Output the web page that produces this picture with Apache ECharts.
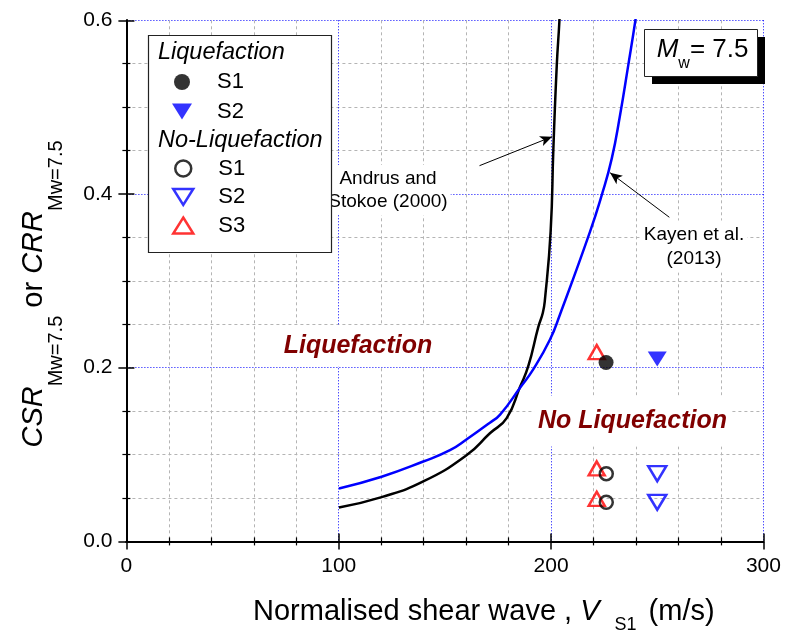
<!DOCTYPE html>
<html>
<head>
<meta charset="utf-8">
<script src="https://cdn.jsdelivr.net/npm/echarts@6/dist/echarts.min.js"></script>
<style>
  html, body { margin: 0; padding: 0; background: #fff; }
  #chart { width: 787px; height: 632px; }
</style>
</head>
<body>
<div id="chart"></div>
<script>
  // Andrus and Stokoe (2000) curve
  var andrusVs  = [100.1, 120.2, 139.8, 160.3, 171.2, 179.1, 185.4, 189.3, 194.0, 196.1, 197.1, 199.8, 201.1, 202.7, 203.9, 204.2];
  var andrusCrr = [0.039, 0.051, 0.069, 0.0995, 0.1245, 0.142, 0.178, 0.202, 0.247, 0.263, 0.278, 0.357, 0.453, 0.549, 0.598, 0.618];
  // Kayen et al. (2013) curve
  var kayenVs  = [100.1, 120.2, 139.8, 152.4, 160.3, 171.2, 176.0, 185.4, 191.6, 199.5, 204.2, 218.4, 223.9, 228.6, 232.5, 236.4, 239.6, 240.2];
  var kayenCrr = [0.061, 0.0745, 0.092, 0.105, 0.1176, 0.1367, 0.146, 0.177, 0.198, 0.2325, 0.2613, 0.357, 0.399, 0.441, 0.491, 0.549, 0.598, 0.610];

  // site points [Vs1, CSR]
  var liqS1   = [[225.9, 0.206]];
  var liqS2   = [[250, 0.210]];
  var noLiqS1 = [[226, 0.078], [226, 0.045]];
  var noLiqS2 = [[250, 0.078], [250, 0.045]];
  var noLiqS3 = [[221.5, 0.218], [221.5, 0.084], [221.5, 0.049]];

  var xRange = [0, 300], xMajor = 100;
  var yRange = [0, 0.6], yMajor = 0.2;

  var FONT = '"Liberation Sans", Arial, Helvetica, sans-serif';
  var DOWN_TRI = 'path://M0,0L20,0L10,16Z';
  var BLUE = '#0000ff';
  var DARKRED = '#800000';

  function pairs(xs, ys) {
    return xs.map(function (x, i) { return [x, ys[i]]; });
  }

  var axisCommon = {
    axisLine: { lineStyle: { color: '#000', width: 2 } },
    axisTick: { inside: true, length: 8, lineStyle: { color: '#000', width: 1.5 } },
    minorTick: { show: true, length: 4, lineStyle: { color: '#000', width: 1.2 } }
  };

  var dom = document.getElementById('chart');
  var chart = echarts.init(dom, null, { renderer: 'canvas' });

  var option = {
    animation: false,
    backgroundColor: '#fff',
    grid: { left: 126.4, right: 23.6, top: 20.3, bottom: 90.6 },
    xAxis: [{
      type: 'value', position: 'bottom', min: xRange[0], max: xRange[1], interval: xMajor,
      axisLine: axisCommon.axisLine, axisTick: axisCommon.axisTick,
      minorTick: Object.assign({ splitNumber: 5 }, axisCommon.minorTick),
      axisLabel: { color: '#000', fontSize: 21, fontFamily: FONT, margin: 14 },
      splitLine: { show: true, lineStyle: { color: BLUE, width: 1, type: [1, 2] } },
      minorSplitLine: { show: true, lineStyle: { color: '#b4b4b4', width: 1, type: [3, 3] } }
    }, {
      type: 'value', position: 'top', min: xRange[0], max: xRange[1], interval: xMajor,
      axisLine: axisCommon.axisLine, axisTick: axisCommon.axisTick,
      minorTick: Object.assign({ splitNumber: 5 }, axisCommon.minorTick),
      axisLabel: { show: false }, splitLine: { show: false }
    }],
    yAxis: [{
      type: 'value', position: 'left', min: yRange[0], max: yRange[1], interval: yMajor,
      axisLine: axisCommon.axisLine, axisTick: axisCommon.axisTick,
      minorTick: Object.assign({ splitNumber: 4 }, axisCommon.minorTick),
      axisLabel: { color: '#000', fontSize: 21, fontFamily: FONT, margin: 14,
        formatter: function (v) { return v.toFixed(1); } },
      splitLine: { show: true, lineStyle: { color: BLUE, width: 1, type: [1, 2] } },
      minorSplitLine: { show: true, lineStyle: { color: '#b4b4b4', width: 1, type: [3, 3] } }
    }, {
      type: 'value', position: 'right', min: yRange[0], max: yRange[1], interval: yMajor,
      axisLine: axisCommon.axisLine, axisTick: axisCommon.axisTick,
      minorTick: Object.assign({ splitNumber: 4 }, axisCommon.minorTick),
      axisLabel: { show: false }, splitLine: { show: false }
    }],
    legend: [{
      data: [
        { name: 'S1', icon: 'circle', itemStyle: { color: '#000', borderWidth: 0 } },
        { name: 'S2', icon: DOWN_TRI, itemStyle: { color: BLUE, borderWidth: 0 } }
      ],
      orient: 'vertical', left: 172, top: 71, padding: 0,
      itemWidth: 20, itemHeight: 16, itemGap: 7.5, selectedMode: false, z: 12,
      textStyle: { fontSize: 22, fontFamily: FONT, color: '#000', padding: [0, 0, 0, 20], lineHeight: 16 },
      formatter: function (n) { return n.trim(); }
    }, {
      data: [
        { name: 'S1 ', icon: 'circle', itemStyle: { color: 'rgba(0,0,0,0)', borderColor: '#000', borderWidth: 2.5 } },
        { name: 'S2 ', icon: DOWN_TRI, itemStyle: { color: 'rgba(0,0,0,0)', borderColor: BLUE, borderWidth: 2.5 } },
        { name: 'S3', icon: 'triangle', itemStyle: { color: 'rgba(0,0,0,0)', borderColor: '#ff0000', borderWidth: 2.5 } }
      ],
      orient: 'vertical', left: 172, top: 157.5, padding: 0,
      itemWidth: 20, itemHeight: 16, itemGap: 6.5, selectedMode: false, z: 12,
      textStyle: { fontSize: 22, fontFamily: FONT, color: '#000', padding: [0, 0, 0, 20], lineHeight: 16 },
      formatter: function (n) { return n.trim(); }
    }],
    series: [{
      name: 'Andrus and Stokoe (2000)', type: 'line', data: pairs(andrusVs, andrusCrr),
      showSymbol: false, smooth: 0.5, z: 3,
      lineStyle: { color: '#000', width: 2.5 },
      markLine: {
        silent: true, symbol: ['none', 'arrow'], symbolSize: [8, 12],
        lineStyle: { color: '#000', width: 1, type: 'solid' }, label: { show: false },
        data: [[{ coord: [166.3, 0.4326] }, { coord: [200.5, 0.466] }]]
      }
    }, {
      name: 'Kayen et al. (2013)', type: 'line', data: pairs(kayenVs, kayenCrr),
      showSymbol: false, smooth: 0.5, z: 3,
      lineStyle: { color: BLUE, width: 2.5 },
      markLine: {
        silent: true, symbol: ['none', 'arrow'], symbolSize: [8, 12],
        lineStyle: { color: '#000', width: 1, type: 'solid' }, label: { show: false },
        data: [[{ coord: [255.7, 0.3732] }, { coord: [227.8, 0.4245] }]]
      }
    }, {
      name: 'S3', type: 'scatter', data: noLiqS3, symbol: 'triangle', symbolSize: [16, 14], z: 4,
      itemStyle: { color: 'rgba(0,0,0,0)', borderColor: '#ff0000', borderWidth: 2.5 }
    }, {
      name: 'S1', type: 'scatter', data: liqS1, symbol: 'circle', symbolSize: 15, z: 5,
      itemStyle: { color: '#000' }
    }, {
      name: 'S2', type: 'scatter', data: liqS2, symbol: DOWN_TRI, symbolSize: [19, 15], z: 5,
      itemStyle: { color: BLUE }
    }, {
      name: 'S1 ', type: 'scatter', data: noLiqS1, symbol: 'circle', symbolSize: 13, z: 5,
      itemStyle: { color: 'rgba(0,0,0,0)', borderColor: '#000', borderWidth: 2.5 }
    }, {
      name: 'S2 ', type: 'scatter', data: noLiqS2, symbol: DOWN_TRI, symbolSize: [18, 15], z: 5,
      itemStyle: { color: 'rgba(0,0,0,0)', borderColor: BLUE, borderWidth: 2.5 }
    }],
    graphic: [
      // legend frame and headings
      { type: 'rect', z: 10, shape: { x: 148.5, y: 35.5, width: 183, height: 217 },
        style: { fill: '#fff', stroke: '#222', lineWidth: 1.2 } },
      { type: 'text', z: 11, x: 158, y: 52.7,
        style: { text: 'Liquefaction', font: 'italic 23.5px ' + FONT, fill: '#000', verticalAlign: 'middle' } },
      { type: 'text', z: 11, x: 158, y: 140,
        style: { text: 'No-Liquefaction', font: 'italic 23.5px ' + FONT, fill: '#000', verticalAlign: 'middle' } },
      // Mw box with shadow
      { type: 'rect', z: 10, shape: { x: 652, y: 37, width: 113, height: 47 }, style: { fill: '#000' } },
      { type: 'rect', z: 11, shape: { x: 644.5, y: 29.5, width: 113, height: 47 },
        style: { fill: '#fff', stroke: '#222', lineWidth: 1 } },
      { type: 'text', z: 12, x: 656.7, y: 49.7,
        style: {
          text: '{i|M}{s|w}{n|= 7.5}', align: 'left', verticalAlign: 'middle',
          rich: {
            i: { fontSize: 26, fontStyle: 'italic', fontFamily: FONT, fill: '#000', lineHeight: 44, verticalAlign: 'middle' },
            s: { fontSize: 16, fontFamily: FONT, fill: '#000', lineHeight: 16, verticalAlign: 'bottom' },
            n: { fontSize: 26, fontFamily: FONT, fill: '#000', lineHeight: 44, verticalAlign: 'middle' }
          }
        } },
      // curve annotations
      { type: 'text', z: 6, x: 388, y: 190,
        style: { text: 'Andrus and\nStokoe (2000)', font: '19px ' + FONT, fill: '#000', lineHeight: 23,
          align: 'center', verticalAlign: 'middle', backgroundColor: '#fff', padding: [2, 3, 2, 3] } },
      { type: 'text', z: 6, x: 694, y: 246.5,
        style: { text: 'Kayen et al.\n(2013)', font: '19px ' + FONT, fill: '#000', lineHeight: 24,
          align: 'center', verticalAlign: 'middle', backgroundColor: '#fff', padding: [2, 3, 2, 3] } },
      // zone labels
      { type: 'text', z: 6, x: 358, y: 346,
        style: { text: 'Liquefaction', font: 'italic bold 25px ' + FONT, fill: DARKRED,
          align: 'center', verticalAlign: 'middle', backgroundColor: '#fff', padding: [8, 4, 8, 4] } },
      { type: 'text', z: 6, x: 632.5, y: 421,
        style: { text: 'No Liquefaction', font: 'italic bold 25px ' + FONT, fill: DARKRED,
          align: 'center', verticalAlign: 'middle', backgroundColor: '#fff', padding: [10, 4, 16, 4] } },
      // axis titles
      { type: 'text', z: 6, x: 253, y: 612,
        style: {
          text: '{n|Normalised shear wave , }{i|V}{s|S1}{n| (m/s)}', align: 'left', verticalAlign: 'middle',
          rich: {
            n: { fontSize: 29, fontFamily: FONT, fill: '#000', lineHeight: 44, verticalAlign: 'middle' },
            i: { fontSize: 29, fontStyle: 'italic', fontFamily: FONT, fill: '#000', lineHeight: 44, verticalAlign: 'middle' },
            s: { fontSize: 18, fontFamily: FONT, fill: '#000', lineHeight: 20, verticalAlign: 'bottom', padding: [0, 4, 0, 15] }
          }
        } },
      { type: 'text', z: 6, x: 34, y: 294, rotation: Math.PI / 2,
        style: {
          text: '{i|CSR}{s|Mw=7.5}{n| or }{i|CRR}{s|Mw=7.5}', align: 'center', verticalAlign: 'middle',
          rich: {
            n: { fontSize: 29, fontFamily: FONT, fill: '#000', lineHeight: 64, verticalAlign: 'middle' },
            i: { fontSize: 29, fontStyle: 'italic', fontFamily: FONT, fill: '#000', lineHeight: 64, verticalAlign: 'middle' },
            s: { fontSize: 20, fontFamily: FONT, fill: '#000', lineHeight: 20, verticalAlign: 'bottom' }
          }
        } }
    ]
  };

  chart.setOption(option);
  window.addEventListener('resize', function () { chart.resize(); });
</script>
</body>
</html>
